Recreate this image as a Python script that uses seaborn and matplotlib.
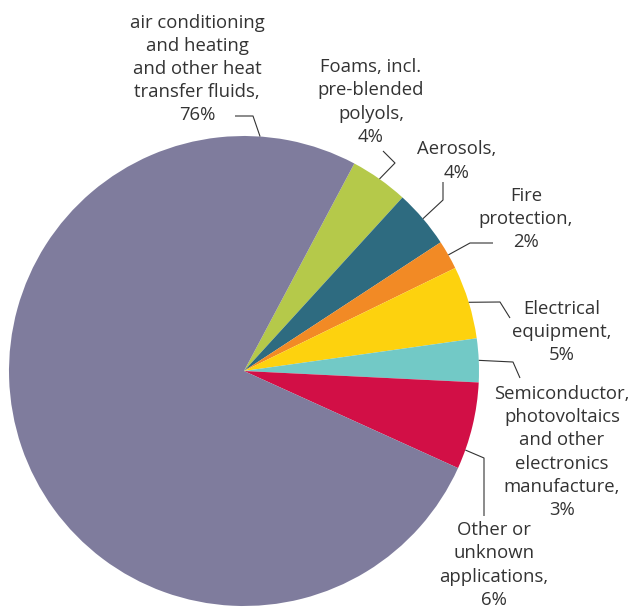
import numpy as np
import matplotlib
matplotlib.use('Agg')
import matplotlib.pyplot as plt
import seaborn as sns

# data (clockwise from the top-right)
labels = ['Foams, incl.\npre-blended\npolyols,\n4%',
          'Aerosols,\n4%',
          'Fire\nprotection,\n2%',
          'Electrical\nequipment,\n5%',
          'Semiconductor,\nphotovoltaics\nand other\nelectronics\nmanufacture,\n3%',
          'Other or\nunknown\napplications,\n6%',
          'air conditioning\nand heating\nand other heat\ntransfer fluids,\n76%']
shares = [4, 4, 2, 5, 3, 6, 76]
colors = ['#b5c94a', '#2e6b80', '#f28a25', '#fdd20e', '#72c9c6', '#d20f46', '#7f7c9d']

# layout in pixels (y measured from top)
W, H = 632, 608
center = (244, H - 371)
radius = 235
anchor_frac = [0.5, 0.5, 0.5, 0.5, 0.5, 0.78, 0.912]
elbows = [(395, 163), (443, 200), (470, 243), (500, 302), (513, 362), (484, 458), (253, 116)]
ends = [(383, 151), (443, 182), (493, 243), (510, 318), (520, 378), (484, 516), (235, 116)]
text_pos = [(371, 102), (457, 161), (526, 219), (562, 332), (562, 452), (494, 565), (197, 69)]

sns.set_theme(style='white')
plt.rcParams['font.family'] = ['Open Sans', 'DejaVu Sans']
txt_color = '#333333'

fig = plt.figure(figsize=(W / 100, H / 100), dpi=100)
ax = fig.add_axes([0, 0, 1, 1])
wedges, _ = ax.pie(shares, colors=colors, startangle=62, counterclock=False,
                   center=center, radius=radius,
                   wedgeprops=dict(linewidth=0))
ax.set_xlim(0, W)
ax.set_ylim(0, H)
ax.set_aspect('auto')
ax.axis('off')

for w, lab, f, el, en, tp in zip(wedges, labels, anchor_frac, elbows, ends, text_pos):
    t1, t2 = w.theta1, w.theta2
    ang = np.deg2rad(t2 - f * (t2 - t1))
    sx = center[0] + radius * np.cos(ang)
    sy = center[1] + radius * np.sin(ang)
    ax.plot([sx, el[0], en[0]], [sy, H - el[1], H - en[1]],
            color=txt_color, lw=0.8, solid_capstyle='butt')
    ax.text(tp[0], H - tp[1], lab, ha='center', va='center', multialignment='center',
            fontsize=13.3, color=txt_color, linespacing=1.37)

plt.savefig('out.png', dpi=100)
